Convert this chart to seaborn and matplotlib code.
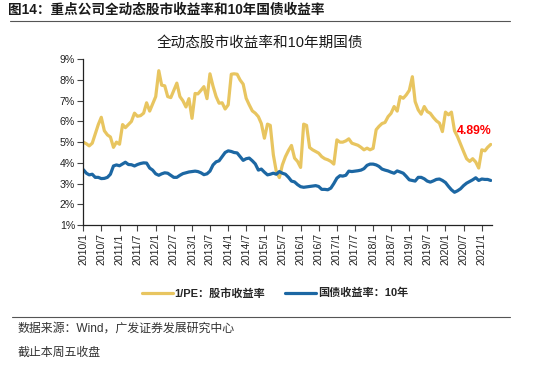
import numpy as np
import pandas as pd
import matplotlib
matplotlib.use("Agg")
import matplotlib.pyplot as plt
import seaborn as sns

# ---- data (monthly, 2010/1 .. 2021/4) ----
start_month = "2010-01-01"
equity_yield = [
    5.00, 4.92, 4.82, 4.95, 5.40, 5.85, 6.20, 5.55, 5.35, 5.25, 4.75, 5.00,
    4.90, 5.85, 5.70, 5.85, 6.00, 6.40, 6.25, 6.28, 6.40, 6.90, 6.50, 6.85,
    7.20, 8.45, 7.75, 7.72, 7.20, 7.15, 7.50, 7.85, 7.20, 7.00, 6.70, 7.10,
    6.15, 7.35, 7.33, 7.50, 7.68, 7.10, 8.30, 7.70, 7.20, 6.88, 6.90, 6.60,
    6.80, 8.28, 8.30, 8.28, 8.00, 7.80, 7.12, 6.80, 6.51, 6.40, 6.23, 5.90,
    5.19, 5.87, 5.81, 4.39, 3.58, 3.29, 3.90, 4.30, 4.60, 4.84, 4.23, 4.07,
    3.78, 5.87, 5.81, 4.74, 4.63, 4.55, 4.47, 4.30, 4.20, 4.15, 4.07, 3.94,
    5.11, 5.00, 5.00, 5.06, 5.16, 4.95, 4.90, 4.85, 4.75, 4.63, 4.71, 4.63,
    4.70, 5.60, 5.76, 5.90, 5.95, 6.23, 6.39, 6.72, 6.50, 7.20, 7.12, 7.28,
    7.50, 8.16, 6.96, 6.56, 6.35, 6.72, 6.48, 6.39, 6.19, 6.03, 5.92, 5.51,
    6.45, 6.32, 6.45, 5.55, 5.27, 4.90, 4.55, 4.20, 4.07, 4.20, 4.04, 3.75,
    4.63, 4.58, 4.75, 4.89,
]
bond_yield = [
    3.67, 3.50, 3.42, 3.45, 3.30, 3.30, 3.24, 3.25, 3.30, 3.45, 3.85, 3.90,
    3.86, 3.95, 4.03, 3.92, 3.91, 3.85, 3.92, 3.97, 4.00, 3.99, 3.75, 3.65,
    3.47, 3.40, 3.47, 3.52, 3.50, 3.40, 3.30, 3.30, 3.40, 3.48, 3.52, 3.56,
    3.58, 3.60, 3.58, 3.52, 3.43, 3.47, 3.60, 3.90, 4.05, 4.10, 4.30, 4.50,
    4.58, 4.55, 4.50, 4.48, 4.30, 4.12, 4.20, 4.23, 4.10, 3.95, 3.65, 3.70,
    3.55, 3.42, 3.45, 3.50, 3.45, 3.58, 3.50, 3.45, 3.30, 3.12, 3.08, 2.95,
    2.85, 2.82, 2.84, 2.86, 2.88, 2.90, 2.86, 2.72, 2.72, 2.70, 2.78, 3.00,
    3.26, 3.38, 3.36, 3.40, 3.60, 3.58, 3.60, 3.62, 3.65, 3.72, 3.88, 3.94,
    3.94, 3.90, 3.83, 3.70, 3.65, 3.61, 3.55, 3.50, 3.61, 3.56, 3.50, 3.35,
    3.18, 3.15, 3.12, 3.30, 3.30, 3.23, 3.12, 3.07, 3.13, 3.20, 3.22, 3.15,
    3.05, 2.86, 2.70, 2.58, 2.65, 2.75, 2.90, 3.02, 3.10, 3.18, 3.28, 3.15,
    3.22, 3.20, 3.20, 3.15,
]
series_names = ["1/PE：股市收益率", "国债收益率：10年"]
y_ticks = [1, 2, 3, 4, 5, 6, 7, 8, 9]
y_tick_labels = ["1%", "2%", "3%", "4%", "5%", "6%", "7%", "8%", "9%"]
x_tick_labels = ["2010/1", "2010/7", "2011/1", "2011/7", "2012/1", "2012/7",
                 "2013/1", "2013/7", "2014/1", "2014/7", "2015/1", "2015/7",
                 "2016/1", "2016/7", "2017/1", "2017/7", "2018/1", "2018/7",
                 "2019/1", "2019/7", "2020/1", "2020/7", "2021/1"]
last_label = "4.89%"

fig_title = "图14：重点公司全动态股市收益率和10年国债收益率"
chart_title = "全动态股市收益率和10年期国债"
source_text = "数据来源：Wind，广发证券发展研究中心"
note_text = "截止本周五收盘"

# ---- build frame ----
dates = pd.date_range(start_month, periods=len(equity_yield), freq="MS")
df = pd.concat([
    pd.DataFrame({"date": dates, "value": equity_yield, "series": series_names[0]}),
    pd.DataFrame({"date": dates, "value": bond_yield, "series": series_names[1]}),
])

sns.set_style("ticks")
plt.rcParams["font.family"] = ["Liberation Sans", "Noto Sans CJK SC", "DejaVu Sans"]

YELLOW = "#E8C560"
BLUE = "#1C67A3"

fig = plt.figure(figsize=(5.5, 3.65), dpi=100)
ax = fig.add_axes([0.1515, 0.3836, 0.894 - 0.1515, 0.8375 - 0.3836])

sns.lineplot(data=df, x="date", y="value", hue="series",
             palette={series_names[0]: YELLOW, series_names[1]: BLUE},
             linewidth=2.3, ax=ax, legend=False)

ax.set_ylim(1, 9)
ax.set_yticks(y_ticks)
ax.set_yticklabels(y_tick_labels)
tick_dates = pd.date_range(start_month, periods=len(x_tick_labels), freq="6MS")
ax.set_xticks(tick_dates)
ax.set_xticklabels(x_tick_labels, rotation=90)
ax.set_xlim(dates[0], dates[-1] + pd.Timedelta(days=10))
ax.set_xlabel("")
ax.set_ylabel("")

for s in ["top", "right"]:
    ax.spines[s].set_visible(False)
for s in ["left", "bottom"]:
    ax.spines[s].set_color("#222222")
    ax.spines[s].set_linewidth(0.9)
ax.tick_params(axis="both", direction="out", length=4, width=0.8,
               color="#444444", labelsize=7.6, labelcolor="#222222", pad=2)

# annotation of last value
ax.text(dates[-1] + pd.Timedelta(days=8), 5.55, last_label, color="#FF0000",
        fontsize=8.8, fontweight="bold", ha="right", va="center")

# legend
from matplotlib.lines import Line2D
handles = [Line2D([0], [0], color=YELLOW, lw=2.3),
           Line2D([0], [0], color=BLUE, lw=2.3)]
fig.legend(handles, series_names, loc="center", bbox_to_anchor=(0.5, 0.197),
           ncol=2, frameon=False, handlelength=2.8, handletextpad=0.15,
           columnspacing=1.8, prop={"size": 8, "weight": "bold"})

# titles and footer
fig.text(8 / 550, 1 - 10 / 365, fig_title, fontsize=9.8, fontweight="bold",
         ha="left", va="center", color="#1a1a1a")
fig.add_artist(Line2D([10 / 550, 510 / 550], [1 - 21 / 365, 1 - 21 / 365],
                      color="#555555", lw=0.8))
fig.text(260 / 550, 1 - 43 / 365, chart_title, fontsize=10.5,
         ha="center", va="center", color="#1a1a1a")
fig.add_artist(Line2D([12 / 550, 510 / 550], [1 - 317 / 365, 1 - 317 / 365],
                      color="#555555", lw=0.8))
fig.text(18 / 550, 1 - 329 / 365, source_text, fontsize=8.6,
         ha="left", va="center", color="#333333")
fig.text(18 / 550, 1 - 353 / 365, note_text, fontsize=8.6,
         ha="left", va="center", color="#333333")

fig.savefig("out.png", dpi=100)
